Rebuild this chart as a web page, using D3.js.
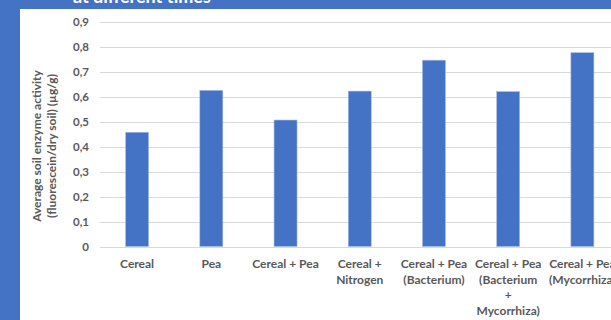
<!DOCTYPE html>
<html>
<head>
<meta charset="utf-8">
<script src="https://cdn.jsdelivr.net/npm/d3@7"></script>
<style>
  html, body { margin: 0; padding: 0; background: #4472C4; }
  svg { display: block; }
</style>
</head>
<body>
<script>
// Treatments, average enzyme activity and axis ticks
const categories = [
  ["Cereal"],
  ["Pea"],
  ["Cereal + Pea"],
  ["Cereal +", "Nitrogen"],
  ["Cereal + Pea", "(Bacterium)"],
  ["Cereal + Pea", "(Bacterium", "+", "Mycorrhiza)"],
  ["Cereal + Pea", "(Mycorrhiza)"]
];
const activity = [0.458, 0.626, 0.507, 0.623, 0.747, 0.621, 0.777];
const yTicks = [0, 0.1, 0.2, 0.3, 0.4, 0.5, 0.6, 0.7, 0.8, 0.9];
const titleTail = "at different times";
const yTitle = ["Average soil enzyme activity", "(fluorescein/dry soil) (µg/g)"];

const W = 611, H = 320;
const blue = "#4472C4", grey = "#595959", gridCol = "#d9d9d9";
const font = "Lato, 'Open Sans', sans-serif";

const svg = d3.select("body").append("svg").attr("width", W).attr("height", H);

// blue frame with the tail of the title, white chart panel
svg.append("rect").attr("width", W).attr("height", H).attr("fill", blue);
svg.append("text").attr("x", 73).attr("y", 3)
  .attr("fill", "#fff").attr("font-family", font).attr("font-weight", 700)
  .attr("font-size", 18).text(titleTail);
svg.append("rect").attr("x", 20).attr("y", 9).attr("width", W - 20).attr("height", H - 9)
  .attr("fill", "#fff");

const x = d3.scaleBand().domain(d3.range(categories.length)).range([100, 619.5]).paddingInner(0.69).paddingOuter(0.345);
const y = d3.scaleLinear().domain([0, 0.9]).range([246.5, 22]);

// gridlines
svg.append("g").selectAll("line").data(yTicks).join("line")
  .attr("x1", 100).attr("x2", 620)
  .attr("y1", d => Math.round(y(d)) + 0.5).attr("y2", d => Math.round(y(d)) + 0.5)
  .attr("stroke", gridCol).attr("stroke-width", 1);

// y axis labels
const yAxis = svg.append("g").attr("transform", "translate(89,0)")
  .call(d3.axisLeft(y).tickValues(yTicks).tickSize(0).tickPadding(0)
    .tickFormat(d => d === 0 ? "0" : d3.format(".1f")(d).replace(".", ",")));
yAxis.select(".domain").remove();
yAxis.selectAll("text").attr("fill", grey).attr("font-family", font)
  .attr("font-weight", 700).attr("font-size", 11.5);

// bars
svg.append("g").selectAll("rect").data(activity).join("rect")
  .attr("x", (d, i) => x(i)).attr("width", x.bandwidth())
  .attr("y", d => y(d)).attr("height", d => y(0) - y(d))
  .attr("fill", blue).attr("stroke", "#a9bde6").attr("stroke-width", 0.6);

// category labels
const cat = svg.append("g").selectAll("text").data(categories).join("text")
  .attr("text-anchor", "middle").attr("fill", grey).attr("font-family", font)
  .attr("font-weight", 700).attr("font-size", 12);
cat.selectAll("tspan").data((d, i) => d.map(s => ({ s, i }))).join("tspan")
  .attr("x", d => x(d.i) + x.bandwidth() / 2)
  .attr("y", (d, j) => 268 + j * 15.6)
  .text(d => d.s);

// y axis title
const yt = svg.append("text").attr("transform", "translate(0,146) rotate(-90)")
  .attr("text-anchor", "middle").attr("fill", grey).attr("font-family", font)
  .attr("font-weight", 700).attr("font-size", 12);
yTitle.forEach((s, j) => yt.append("tspan").attr("x", 0).attr("y", 41 + j * 15).text(s));
</script>
</body>
</html>
